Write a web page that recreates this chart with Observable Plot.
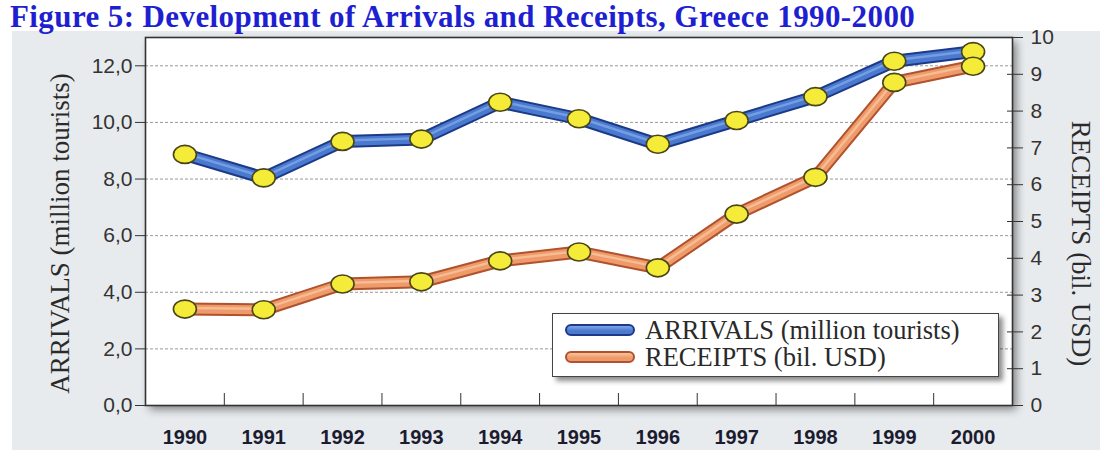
<!DOCTYPE html>
<html><head><meta charset="utf-8">
<script src="https://cdn.jsdelivr.net/npm/d3@7"></script>
<script src="https://cdn.jsdelivr.net/npm/@observablehq/plot@0.6"></script>
<style>
body{margin:0;background:#fff;}
#wrap{position:relative;width:1105px;height:450px;overflow:hidden;font-family:"Liberation Serif","Times New Roman",serif;}
#title{position:absolute;left:10px;top:0px;font-size:31px;line-height:33px;letter-spacing:0.4px;font-weight:bold;color:#1f1fd2;white-space:nowrap;}
#panel{position:absolute;left:12px;top:31px;width:1088px;height:419px;background:#e8ebee;}
#chart{position:absolute;left:0;top:0;}
.ytitle{position:absolute;white-space:nowrap;font-size:27px;color:#2a2a2a;transform-origin:center;}
#legend{position:absolute;left:552px;top:313px;width:445px;height:62px;background:#fff;border:1.5px solid #444;box-shadow:4px 4px 5px rgba(0,0,0,0.45);}
.row{position:absolute;left:12px;height:26px;display:flex;align-items:center;font-size:26.5px;color:#2a2a2a;white-space:nowrap;}
.sw{width:66px;height:8px;border-radius:6px;margin-right:10px;}
</style></head><body>
<div id="wrap">
  <div id="panel"></div>
  <div id="title">Figure 5: Development of Arrivals and Receipts, Greece 1990-2000</div>
  <div id="chart"></div>
  <div class="ytitle" id="lt">ARRIVALS (million tourists)</div>
  <div class="ytitle" id="rt">RECEIPTS (bil. USD)</div>
  <div id="legend">
    <div class="row" style="top:3px"><div class="sw" id="sw1"></div><span id="l1"></span></div>
    <div class="row" style="top:30px"><div class="sw" id="sw2"></div><span id="l2"></span></div>
  </div>
</div>
<script>
const years = [1990, 1991, 1992, 1993, 1994, 1995, 1996, 1997, 1998, 1999, 2000];
const arrivals = [8.87, 8.04, 9.33, 9.41, 10.71, 10.13, 9.23, 10.07, 10.91, 12.16, 12.5];
const receipts = [2.62, 2.60, 3.30, 3.36, 3.93, 4.17, 3.74, 5.20, 6.20, 8.78, 9.22];
const leftTicks = [0, 2, 4, 6, 8, 10, 12];
const rightTicks = [0, 1, 2, 3, 4, 5, 6, 7, 8, 9, 10];
const seriesNames = ["ARRIVALS (million tourists)", "RECEIPTS (bil. USD)"];
const leftMax = 13, rightMax = 10;
const ratio = leftMax / rightMax;

const A = years.map((year, i) => ({year, v: arrivals[i]}));
const R = years.map((year, i) => ({year, v: receipts[i] * ratio}));
const boundaries = years.slice(1).map(y => y - 0.5);

const blue = {outline: "#1d3a88", main: "#4a7ad0", hi: "#7fa6e6"};
const orange = {outline: "#b0522c", main: "#ee9a6a", hi: "#f8c49c"};

const ellipse = {draw(ctx, size) {
  const r = Math.sqrt(size / Math.PI), rx = r * 1.15, ry = r * 0.9, k = 0.5523;
  ctx.moveTo(rx, 0);
  ctx.bezierCurveTo(rx, ry * k, rx * k, ry, 0, ry);
  ctx.bezierCurveTo(-rx * k, ry, -rx, ry * k, -rx, 0);
  ctx.bezierCurveTo(-rx, -ry * k, -rx * k, -ry, 0, -ry);
  ctx.bezierCurveTo(rx * k, -ry, rx, -ry * k, rx, 0);
  ctx.closePath();
}};

function seriesMarks(data, c) {
  const base = {x: "year", y: "v", strokeLinejoin: "round", strokeLinecap: "round"};
  return [
    Plot.line(data, {...base, stroke: c.outline, strokeWidth: 13}),
    Plot.line(data, {...base, stroke: c.main, strokeWidth: 9}),
    Plot.line(data, {...base, stroke: c.hi, strokeWidth: 2.5, strokeOpacity: 0.8, dy: -1}),
    Plot.dot(data, {x: "year", y: "v", r: 10, symbol: ellipse, fill: "#f4ec38", stroke: "#4a4518", strokeWidth: 1.6})
  ];
}

const sans = "Liberation Sans, Arial, sans-serif";
const chart = Plot.plot({
  width: 1105, height: 450,
  marginLeft: 145, marginRight: 93, marginTop: 37, marginBottom: 45,
  x: {domain: [years[0] - 0.5, years[years.length - 1] + 0.5], label: null},
  y: {domain: [0, leftMax], label: null},
  style: {background: "transparent", fontFamily: sans, overflow: "visible"},
  marks: [
    Plot.frame({fill: "white", stroke: null}),
    Plot.gridY(leftTicks.filter(d => d > 0), {stroke: "#777", strokeDasharray: "3,2", strokeOpacity: 0.75}),
    Plot.axisX(boundaries, {tickSize: -12, tickFormat: () => "", stroke: "#333", label: null}),
    Plot.axisX(years, {tickSize: 0, tickPadding: 24, tickFormat: d => String(d), fontSize: 20, fontWeight: "bold", fill: "#1c1c30", label: null, fontFamily: sans}),
    Plot.axisY(leftTicks, {anchor: "left", tickSize: 10, tickPadding: 3, tickFormat: d => d.toFixed(1).replace(".", ","), fontSize: 21, fill: "#333", stroke: "#333", label: null, fontFamily: sans}),
    Plot.axisY(rightTicks.map(d => d * ratio), {anchor: "right", tickSize: 10, tickPadding: 8, tickFormat: d => String(Math.round(d / ratio)), fontSize: 21, fill: "#333", stroke: "#333", label: null, fontFamily: sans}),
    Plot.axisY(rightTicks.map(d => d * ratio), {anchor: "right", tickSize: -6, tickFormat: () => "", stroke: "#333", label: null}),
    Plot.frame({stroke: "#333", strokeWidth: 1.6}),
    ...seriesMarks(A, blue),
    ...seriesMarks(R, orange)
  ]
});
d3.select(chart).select('[aria-label="frame"]').style("filter", "drop-shadow(4px 4px 4px rgba(0,0,0,0.45))");
document.getElementById("chart").appendChild(chart);

function sw(id, c) {
  const e = document.getElementById(id);
  e.style.background = `linear-gradient(${c.hi}, ${c.main} 60%)`;
  e.style.border = `2px solid ${c.outline}`;
}
sw("sw1", blue); sw("sw2", orange);
document.getElementById("l1").textContent = seriesNames[0];
document.getElementById("l2").textContent = seriesNames[1];

function place(id, cx, cy, rot) {
  const e = document.getElementById(id);
  const w = e.offsetWidth, h = e.offsetHeight;
  e.style.left = (cx - w / 2) + "px";
  e.style.top = (cy - h / 2) + "px";
  e.style.transform = `rotate(${rot}deg)`;
}
place("lt", 60, 233, -90);
place("rt", 1080, 243, 90);
</script>
</body></html>
